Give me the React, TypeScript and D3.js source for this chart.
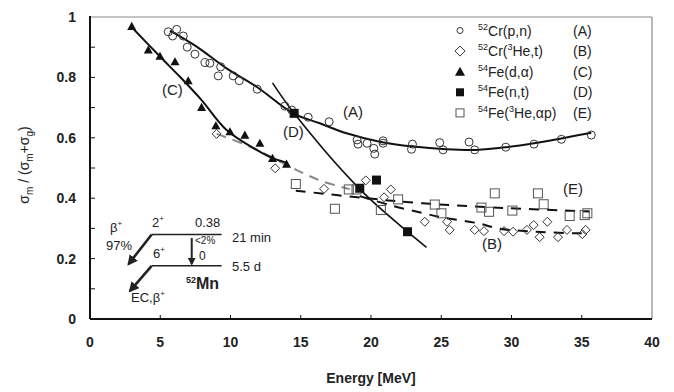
import React from "react";
import * as d3 from "d3";

// ---- data ----
const aE = [5.57,5.88,6.17,6.64,6.92,7.47,8.18,8.53,9.13,9.30,10.19,10.62,11.90,13.87,14.35,15.53,17.02,19.01,19.08,19.72,20.20,20.27,20.86,20.86,22.88,22.95,24.89,25.13,26.98,27.38,29.59,31.6,33.55,35.68];
const aV = [0.951,0.937,0.959,0.937,0.900,0.877,0.849,0.847,0.805,0.835,0.805,0.789,0.761,0.705,0.692,0.668,0.653,0.593,0.579,0.582,0.565,0.546,0.590,0.582,0.562,0.579,0.584,0.560,0.586,0.560,0.569,0.579,0.595,0.609];
const bE = [9.01,13.18,16.66,19.63,21.41,20.93,23.83,25.41,25.6,27.38,28.04,29.47,30.11,31.1,31.58,32.0,32.55,33.31,33.95,35.04,35.28];
const bV = [0.613,0.499,0.431,0.459,0.429,0.403,0.322,0.322,0.295,0.295,0.291,0.291,0.289,0.295,0.311,0.271,0.322,0.271,0.295,0.281,0.295];
const cE = [2.97,4.15,4.98,6.05,6.99,7.94,8.96,9.96,11.02,12.09,12.99,13.99];
const cV = [0.966,0.888,0.867,0.849,0.786,0.698,0.637,0.617,0.606,0.579,0.529,0.510];
const dE = [14.53,19.2,20.39,22.6];
const dV = [0.681,0.433,0.460,0.289];
const eE = [14.65,17.43,18.42,18.97,20.70,21.93,24.54,25.01,27.86,28.40,28.81,30.06,31.88,32.29,34.14,35.21,35.4];
const eV = [0.447,0.365,0.429,0.429,0.361,0.396,0.379,0.350,0.369,0.355,0.416,0.359,0.416,0.380,0.341,0.344,0.350];

// fitted curves
const fitAE = [5.69,7.59,9.72,11.86,14.46,16.36,18.26,20.63,22.99,25.37,27.5,29.64,31.6,33.55,35.68];
const fitAV = [0.955,0.902,0.830,0.769,0.681,0.648,0.615,0.587,0.571,0.562,0.560,0.569,0.582,0.598,0.617];
const fitCE = [2.96,4.98,6.40,7.94,9.72,11.86,13.04,14.08];
const fitCV = [0.967,0.869,0.802,0.725,0.626,0.560,0.532,0.517];
const fitDE = [12.99,14.53,19.2,22.6,23.95];
const fitDV = [0.782,0.681,0.430,0.289,0.237];
const fitBLowE = [9.01,11.38,14.94,16.59,18.49];
const fitBLowV = [0.613,0.571,0.488,0.455,0.430];
const fitBHighE = [19.2,21.34,23.59,24.89,27.62,29.04,31.77,34.62,35.56];
const fitBHighV = [0.407,0.377,0.352,0.338,0.317,0.300,0.289,0.284,0.285];
const fitEE = [14.65,19.63,23.68,28.45,35.56];
const fitEV = [0.425,0.400,0.383,0.370,0.356];

const xTicks = [0,5,10,15,20,25,30,35,40];
const yTicks = [0,0.2,0.4,0.6,0.8,1];
const yMinor = [0.1,0.2,0.3,0.4,0.5,0.6,0.7,0.8,0.9];

const x = d3.scaleLinear().domain([0, 40]).range([90, 652]);
const y = d3.scaleLinear().domain([0, 1]).range([319, 17]);

const zip = (a: number[], b: number[]) => a.map((v, i) => [v, b[i]] as [number, number]);
const lineGen = d3.line<[number, number]>().x(d => x(d[0])).y(d => y(d[1])).curve(d3.curveCatmullRom);

const FONT = "'Liberation Sans', Arial, sans-serif";

function Circle({ cx, cy, r = 4 }: any) {
  return <circle cx={cx} cy={cy} r={r} fill="none" stroke="#333" strokeWidth={1} />;
}
function Diamond({ cx, cy, s = 4.5 }: any) {
  return <path d={`M${cx},${cy - s}L${cx + s},${cy}L${cx},${cy + s}L${cx - s},${cy}Z`} fill="none" stroke="#333" strokeWidth={1} />;
}
function Tri({ cx, cy, s = 9 }: any) {
  const h = s * 0.9;
  return <path d={`M${cx},${cy - (2 * h) / 3}L${cx + s / 2},${cy + h / 3}L${cx - s / 2},${cy + h / 3}Z`} fill="#111" />;
}
function SqF({ cx, cy, s = 9 }: any) {
  return <rect x={cx - s / 2} y={cy - s / 2} width={s} height={s} fill="#111" />;
}
function SqO({ cx, cy, s = 9 }: any) {
  return <rect x={cx - s / 2} y={cy - s / 2} width={s} height={s} fill="none" stroke="#555" strokeWidth={1} />;
}

export default function App() {
  const legendRows = [
    { mk: "c", sup: "52", pre: "Cr(", sup2: "", main: "p,n)", tag: "(A)" },
    { mk: "d", sup: "52", pre: "Cr(", sup2: "3", main: "He,t)", tag: "(B)" },
    { mk: "t", sup: "54", pre: "Fe(", sup2: "", main: "d,\u03b1)", tag: "(C)" },
    { mk: "sf", sup: "54", pre: "Fe(", sup2: "", main: "n,t)", tag: "(D)" },
    { mk: "so", sup: "54", pre: "Fe(", sup2: "3", main: "He,\u03b1p)", tag: "(E)" },
  ];
  return (
    <svg width={674} height={392} style={{ display: "block", position: "absolute", left: 0, top: 0, background: "#fff" }} fontFamily={FONT}>
      <defs>
        <marker id="ah" viewBox="0 0 10 10" refX="8" refY="5" markerWidth="4" markerHeight="4" orient="auto">
          <path d="M0,0L10,5L0,10Z" fill="#222" />
        </marker>
      </defs>
      {/* frame */}
      <line x1={x(0)} x2={x(40)} y1={y(1)} y2={y(1)} stroke="#888" strokeWidth={1} />
      <line x1={x(40)} x2={x(40)} y1={y(1)} y2={y(0)} stroke="#888" strokeWidth={1.2} />
      <line x1={x(0)} x2={x(40)} y1={y(0)} y2={y(0)} stroke="#111" strokeWidth={2} />
      <line x1={x(0)} x2={x(0)} y1={y(1) - 1} y2={y(0)} stroke="#111" strokeWidth={2} />
      {xTicks.slice(1, -1).map(t => (
        <line key={"xt" + t} x1={x(t)} x2={x(t)} y1={y(0)} y2={y(0) - 4} stroke="#111" strokeWidth={1} />
      ))}
      {yMinor.map(t => (
        <line key={"yt" + t} x1={x(0)} x2={x(0) + 5} y1={y(t)} y2={y(t)} stroke="#111" strokeWidth={1} />
      ))}
      {xTicks.map(t => (
        <text key={"xl" + t} x={x(t)} y={347} textAnchor="middle" fontSize={14} fontWeight="bold" fill="#222">{t}</text>
      ))}
      {yTicks.map(t => (
        <text key={"yl" + t} x={76} y={y(t) + 5} textAnchor="end" fontSize={14} fontWeight="bold" fill="#222">{t}</text>
      ))}
      <text x={371} y={383} textAnchor="middle" fontSize={14} fontWeight="bold" fill="#222">Energy [MeV]</text>
      <text transform="translate(29,165) rotate(-90)" textAnchor="middle" fontSize={14} fill="#222">
        σ<tspan fontSize={10} dy={4}>m</tspan><tspan dy={-4}> / (σ</tspan><tspan fontSize={10} dy={4}>m</tspan><tspan dy={-4}>+σ</tspan><tspan fontSize={10} dy={4}>g</tspan><tspan dy={-4}>)</tspan>
      </text>

      {/* fit lines */}
      <path d={lineGen(zip(fitBLowE, fitBLowV)) || ""} fill="none" stroke="#888" strokeWidth={2} strokeDasharray="10,7" />
      <path d={lineGen(zip(fitBHighE, fitBHighV)) || ""} fill="none" stroke="#111" strokeWidth={2} strokeDasharray="10,8" />
      <path d={lineGen(zip(fitEE, fitEV)) || ""} fill="none" stroke="#111" strokeWidth={2} strokeDasharray="10,8" />
      <path d={lineGen(zip(fitAE, fitAV)) || ""} fill="none" stroke="#111" strokeWidth={2} />
      <path d={lineGen(zip(fitCE, fitCV)) || ""} fill="none" stroke="#111" strokeWidth={2} />
      <path d={lineGen(zip(fitDE, fitDV)) || ""} fill="none" stroke="#111" strokeWidth={1.6} />

      {/* markers */}
      {zip(aE, aV).map((d, i) => <Circle key={"a" + i} cx={x(d[0])} cy={y(d[1])} />)}
      {zip(bE, bV).map((d, i) => <Diamond key={"b" + i} cx={x(d[0])} cy={y(d[1])} />)}
      {zip(eE, eV).map((d, i) => <SqO key={"e" + i} cx={x(d[0])} cy={y(d[1])} />)}
      {zip(cE, cV).map((d, i) => <Tri key={"c" + i} cx={x(d[0])} cy={y(d[1])} />)}
      {zip(dE, dV).map((d, i) => <SqF key={"d" + i} cx={x(d[0])} cy={y(d[1])} />)}

      {/* curve labels */}
      <text x={343} y={117} fontSize={15} fill="#222">(A)</text>
      <text x={482} y={249} fontSize={15} fill="#222">(B)</text>
      <text x={162} y={95} fontSize={15} fill="#222">(C)</text>
      <text x={283} y={137} fontSize={15} fill="#222">(D)</text>
      <text x={563} y={194} fontSize={15} fill="#222">(E)</text>

      {/* legend */}
      {legendRows.map((r, i) => {
        const cy = 30.5 + i * 20.6;
        const mx = 460;
        return (
          <g key={"lg" + i}>
            {r.mk === "c" && <Circle cx={mx} cy={cy} r={3} />}
            {r.mk === "d" && <Diamond cx={mx} cy={cy} s={5} />}
            {r.mk === "t" && <Tri cx={mx} cy={cy + 1} s={10} />}
            {r.mk === "sf" && <SqF cx={mx} cy={cy} s={8} />}
            {r.mk === "so" && <SqO cx={mx} cy={cy} s={8} />}
            <text x={478} y={cy + 5} fontSize={14} fill="#222">
              <tspan fontSize={9} dy={-6}>{r.sup}</tspan>
              <tspan dy={6}>{r.pre}</tspan>
              {r.sup2 && <tspan fontSize={9} dy={-6}>{r.sup2}</tspan>}
              <tspan dy={r.sup2 ? 6 : 0}>{r.main}</tspan>
            </text>
            <text x={573} y={cy + 5} fontSize={14} fill="#222">{r.tag}</text>
          </g>
        );
      })}

      {/* decay scheme inset */}
      <g fill="#222" fontSize={13}>
        <line x1={x(4.39)} x2={x(9.37)} y1={y(0.28)} y2={y(0.28)} stroke="#222" strokeWidth={1.5} />
        <line x1={x(4.39)} x2={x(9.37)} y1={y(0.176)} y2={y(0.176)} stroke="#222" strokeWidth={1.5} />
        <line x1={x(4.39)} x2={x(2.75)} y1={y(0.28)} y2={y(0.182)} stroke="#222" strokeWidth={2.6} markerEnd="url(#ah)" />
        <line x1={x(4.39)} x2={x(2.85)} y1={y(0.176)} y2={y(0.093)} stroke="#222" strokeWidth={2.6} markerEnd="url(#ah)" />
        <line x1={x(7.24)} x2={x(7.24)} y1={y(0.268)} y2={y(0.182)} stroke="#222" strokeWidth={2} markerEnd="url(#ah)" />
        <text x={110} y={232}>β<tspan fontSize={8} dy={-6}>+</tspan></text>
        <text x={106} y={250}>97%</text>
        <text x={152} y={227}>2<tspan fontSize={8} dy={-6}>+</tspan></text>
        <text x={195} y={227}>0.38</text>
        <text x={232} y={242}>21 min</text>
        <text x={195} y={244} fontSize={10}>&lt;2%</text>
        <text x={153} y={258}>6<tspan fontSize={8} dy={-6}>+</tspan></text>
        <text x={199} y={260} fontSize={12}>0</text>
        <text x={232} y={271}>5.5 d</text>
        <text x={186} y={289} fontWeight="bold"><tspan fontSize={9} dy={-6}>52</tspan><tspan fontSize={16} dy={6}>Mn</tspan></text>
        <text x={131} y={302}>EC,β<tspan fontSize={8} dy={-6}>+</tspan></text>
      </g>
    </svg>
  );
}
